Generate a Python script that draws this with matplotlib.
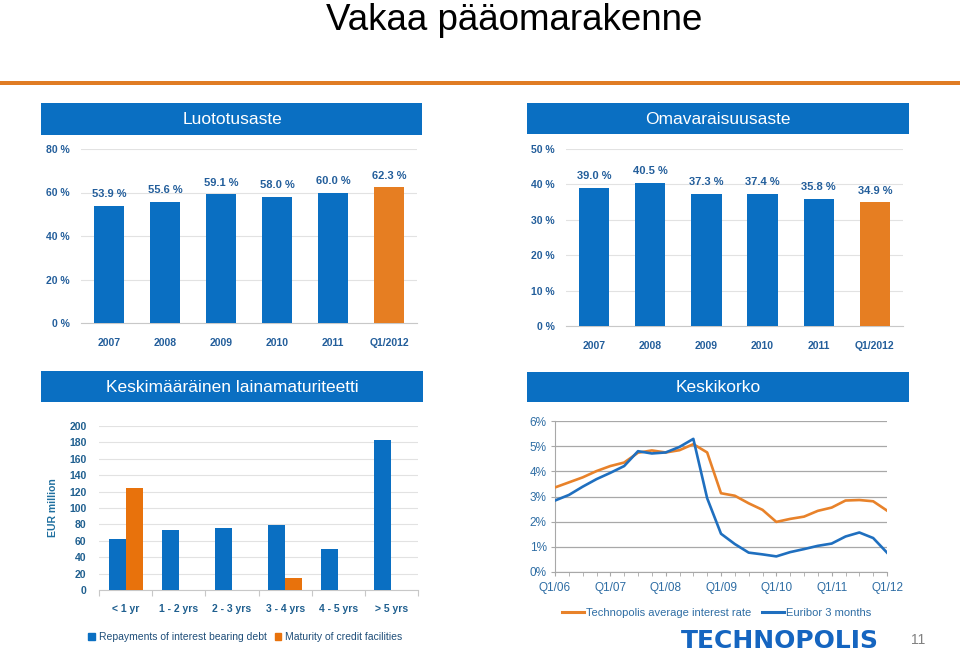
import matplotlib
matplotlib.use("Agg")
import matplotlib.pyplot as plt
from matplotlib.patches import Rectangle, Patch
from matplotlib.lines import Line2D
import numpy as np

plt.rcParams['font.family'] = ['Liberation Sans', 'DejaVu Sans']

# ---------------- data ----------------
years = ['2007', '2008', '2009', '2010', '2011', 'Q1/2012']
loan_to_value = [53.9, 55.6, 59.1, 58.0, 60.0, 62.3]
equity_ratio = [39.0, 40.5, 37.3, 37.4, 35.8, 34.9]

maturity_cats = ['< 1 yr', '1 - 2 yrs', '2 - 3 yrs', '3 - 4 yrs', '4 - 5 yrs', '> 5 yrs']
repayments = [62, 73, 76, 79, 50, 183]
credit_facilities = [125, 0, 0, 15, 0, 0]

quarter_labels = ['Q1/06', 'Q1/07', 'Q1/08', 'Q1/09', 'Q1/10', 'Q1/11', 'Q1/12']
avg_rate = [3.36, 3.56, 3.76, 4.01, 4.21, 4.35, 4.74, 4.83, 4.75, 4.84, 5.08, 4.75, 3.13,
            3.03, 2.73, 2.47, 1.99, 2.11, 2.20, 2.43, 2.56, 2.84, 2.86, 2.81, 2.44]
euribor = [2.84, 3.06, 3.39, 3.69, 3.94, 4.21, 4.80, 4.71, 4.75, 4.97, 5.29, 2.93, 1.52,
           1.11, 0.77, 0.70, 0.62, 0.79, 0.91, 1.04, 1.13, 1.41, 1.57, 1.35, 0.77]

# ---------------- style ----------------
BLUE = '#0A6FC2'
ORANGE = '#E67E22'
HEADER = '#0A6FC2'
TXT = '#235E9B'
GRID = '#E2E2E2'

W, H = 960, 656
fig = plt.figure(figsize=(W / 100, H / 100), dpi=100)


def add_ax(l, t, r, b):
    return fig.add_axes([l / W, 1 - b / H, (r - l) / W, (b - t) / H])


def header(l, t, r, b, text, cx):
    fig.add_artist(Rectangle((l / W, 1 - b / H), (r - l) / W, (b - t) / H,
                             transform=fig.transFigure, facecolor=HEADER,
                             edgecolor='none'))
    fig.text(cx / W, 1 - ((t + b) / 2 + 1) / H, text, color='white',
             fontsize=12.5, ha='center', va='center')


# Title and orange rule
fig.text(514 / W, 1 - 20 / H, 'Vakaa pääomarakenne', fontsize=26.5, ha='center',
         va='center', color='black')
fig.add_artist(Rectangle((0, 1 - 85 / H), 1, 4 / H, transform=fig.transFigure,
                         facecolor='#E07C24', edgecolor='none'))


def bar_panel(ax, values, ymax, step):
    x = np.arange(len(values))
    colors = [BLUE] * (len(values) - 1) + [ORANGE]
    ax.bar(x, values, width=0.54, color=colors, zorder=3)
    ax.set_xlim(-0.5, len(values) - 0.5)
    ax.set_ylim(0, ymax)
    ticks = np.arange(0, ymax + 1, step)
    ax.set_yticks(ticks)
    ax.set_yticklabels([f'{int(t)} %' for t in ticks])
    ax.set_xticks(x)
    ax.set_xticklabels(years)
    ax.grid(axis='y', color=GRID, lw=0.8, zorder=0)
    for s in ['top', 'right', 'left']:
        ax.spines[s].set_visible(False)
    ax.spines['bottom'].set_color('#C8C8C8')
    ax.tick_params(length=0, labelsize=7.5, labelcolor=TXT)
    ax.tick_params(axis='x', pad=11)
    ax.tick_params(axis='y', pad=8)
    for lab in ax.get_xticklabels() + ax.get_yticklabels():
        lab.set_fontweight('bold')
    for xi, v in zip(x, values):
        ax.annotate(f'{v:.1f} %', (xi, v), xytext=(0, 5), textcoords='offset points',
                    ha='center', va='bottom', fontsize=8, fontweight='bold', color=TXT)


# ---- top left ----
header(41, 103, 422, 135, 'Luototusaste', 232)
ax1 = add_ax(81, 149, 417, 323)
bar_panel(ax1, loan_to_value, 80, 20)

# ---- top right ----
header(527, 103, 909, 134, 'Omavaraisuusaste', 718)
ax2 = add_ax(566, 149, 903, 326)
bar_panel(ax2, equity_ratio, 50, 10)

# ---- bottom left ----
header(41, 371, 423, 402, 'Keskimääräinen lainamaturiteetti', 232)
ax3 = add_ax(99, 426, 418, 590)
xm = np.arange(len(maturity_cats))
ax3.bar(xm - 0.16, repayments, width=0.32, color=BLUE, zorder=3)
ax3.bar(xm + 0.16, credit_facilities, width=0.32, color='#E8720C', zorder=3)
ax3.set_xlim(-0.5, len(maturity_cats) - 0.5)
ax3.set_ylim(0, 200)
ax3.set_yticks(np.arange(0, 201, 20))
ax3.set_xticks(np.arange(-0.5, len(maturity_cats), 1))
ax3.set_xticklabels([])
ax3.set_xticks(xm, minor=True)
ax3.set_xticklabels(maturity_cats, minor=True)
ax3.grid(axis='y', color=GRID, lw=0.8, zorder=0)
for s in ['top', 'right', 'left']:
    ax3.spines[s].set_visible(False)
ax3.spines['bottom'].set_color('#C8C8C8')
ax3.tick_params(axis='x', which='major', length=4, color='#C8C8C8')
ax3.tick_params(axis='x', which='minor', length=0, pad=10, labelsize=7.5,
                labelcolor='#1F5F8F')
ax3.tick_params(axis='y', length=0, pad=9, labelsize=7.5, labelcolor='#1F5F8F')
for lab in ax3.get_xticklabels(minor=True) + ax3.get_yticklabels():
    lab.set_fontweight('bold')
ax3.set_ylabel('EUR million', fontsize=7.5, fontweight='bold', color='#1F6F9F',
               labelpad=8)
fig.legend(handles=[Patch(color=BLUE), Patch(color='#E8720C')],
           labels=['Repayments of interest bearing debt', 'Maturity of credit facilities'],
           loc='center left', bbox_to_anchor=(79 / W, 1 - 637 / H), ncol=2,
           frameon=False, fontsize=7.5, handlelength=0.6, handleheight=0.6,
           handletextpad=0.4, columnspacing=0.8, labelcolor='#1F4E79')

# ---- bottom right ----
header(527, 372, 909, 402, 'Keskikorko', 718)
ax4 = add_ax(555, 421, 887, 572)
xq = np.arange(len(avg_rate))
ax4.plot(xq, avg_rate, color='#E8822A', lw=1.9, zorder=3)
ax4.plot(xq, euribor, color='#1F6FBF', lw=1.9, zorder=4)
ax4.set_xlim(0, len(avg_rate) - 1)
ax4.set_ylim(0, 6)
ax4.set_yticks(np.arange(0, 7, 1))
ax4.set_yticklabels([f'{i}%' for i in range(7)])
ax4.set_xticks(np.arange(0, len(avg_rate), 4))
ax4.set_xticklabels(quarter_labels)
ax4.set_xticks(xq, minor=True)
ax4.grid(axis='y', color='#A8A8A8', lw=0.9, zorder=0)
for s in ['top', 'right']:
    ax4.spines[s].set_visible(False)
ax4.spines['bottom'].set_color('#A8A8A8')
ax4.spines['left'].set_color('#A8A8A8')
ax4.tick_params(axis='x', which='both', length=3, color='#A8A8A8', labelsize=8.5,
                labelcolor='#2E6DA4', pad=4)
ax4.tick_params(axis='y', length=3, color='#A8A8A8', labelsize=8.5,
                labelcolor='#2E6DA4', pad=3)
fig.legend(handles=[Line2D([], [], color='#E8822A', lw=2.2),
                    Line2D([], [], color='#1F6FBF', lw=2.2)],
           labels=['Technopolis average interest rate', 'Euribor 3 months'],
           loc='center left', bbox_to_anchor=(552 / W, 1 - 613 / H), ncol=2,
           frameon=False, fontsize=8, handlelength=2.0, handletextpad=0.2,
           columnspacing=0.9, labelcolor='#2E6DA4')

# ---- logo and page number ----
fig.text(780 / W, 1 - 641 / H, 'TECHNOPOLIS', family='DejaVu Sans', fontweight='bold',
         fontsize=18, color='#1565C0', ha='center', va='center')
fig.text(918 / W, 1 - 640 / H, '11', fontsize=10, color='#808080', ha='center',
         va='center')

fig.savefig('out.png', dpi=100)
